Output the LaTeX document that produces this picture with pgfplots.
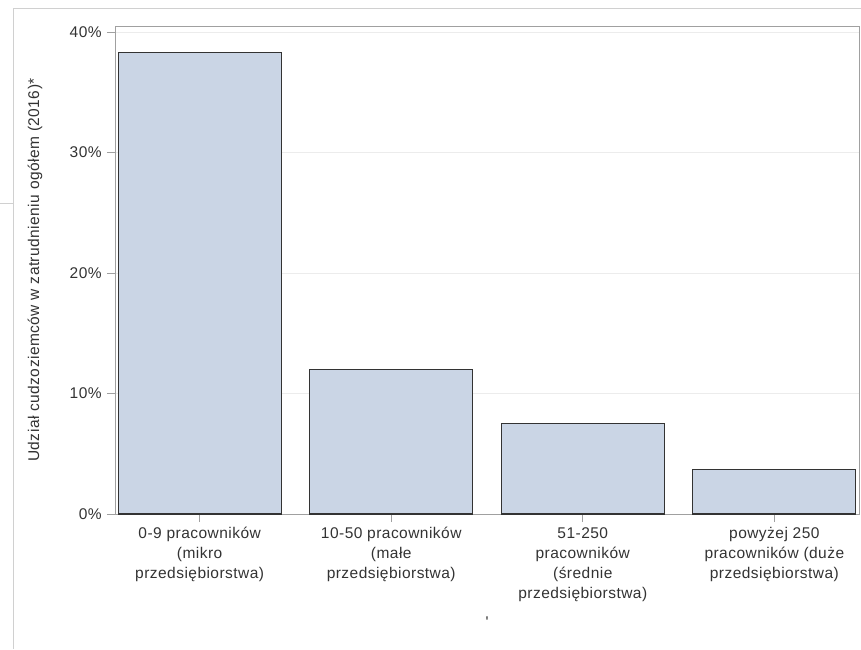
\documentclass[border=0pt]{standalone}
\usepackage{pgfplots}
\pgfplotsset{compat=1.18}
\usepackage{fontspec}
\setmainfont{Liberation Sans}[LetterSpace=3]
\definecolor{barfill}{HTML}{CAD5E5}
\definecolor{baredge}{HTML}{333333}
\definecolor{axgray}{HTML}{A0A0A0}
\definecolor{gridgray}{HTML}{ECECEC}
\definecolor{framegray}{HTML}{D0D0D0}
\definecolor{txt}{HTML}{333333}
\begin{document}
\fontsize{15.5}{20}\selectfont
\begin{tikzpicture}
\path[use as bounding box] (0pt,0pt) rectangle (861pt,-649pt);
\draw[framegray, line width=1pt] (13pt,-8pt) -- (861pt,-8pt);
\draw[framegray, line width=1pt] (13pt,-8pt) -- (13pt,-649pt);
\draw[framegray, line width=1pt] (0pt,-203pt) -- (13pt,-203pt);
\begin{axis}[
  at={(115pt,-514pt)}, anchor=south west,
  scale only axis, width=744pt, height=488pt,
  xmin=-0.442, xmax=3.442, ymin=0, ymax=40.5,
  ytick={0,10,20,30,40},
  yticklabel={\pgfmathprintnumber{\tick}\%},
  /pgf/number format/assume math mode=true,
  xtick={0,1,2,3},
  xticklabels={{0-9 pracowników\\(mikro\\przedsiębiorstwa)},
               {10-50 pracowników\\(małe\\przedsiębiorstwa)},
               {51-250\\pracowników\\(średnie\\przedsiębiorstwa)},
               {powyżej 250\\pracowników (duże\\przedsiębiorstwa)}},
  xticklabel style={align=center, anchor=north, text=txt, font=\fontsize{15.5}{20}\selectfont},
  yticklabel style={text=txt, font=\fontsize{15.5}{20}\selectfont},
  xtick pos=bottom, ytick pos=left,
  tick align=outside, major tick length=8pt,
  tick style={axgray, line width=1pt},
  axis line style={axgray, line width=1pt},
  ymajorgrids, grid style={gridgray, line width=1pt},
  ylabel={Udział cudzoziemców w zatrudnieniu ogółem (2016)*},
  ylabel style={at={(axis description cs:-0.1075,0.5)}, anchor=center, text=txt, font=\fontsize{15.5}{20}\selectfont},
  xlabel={\textquotesingle},
  xlabel style={at={(axis description cs:0.5,-0.221)}, anchor=center, text=txt},
  ybar, bar width=163pt, bar shift=0pt,
]
\addplot[fill=barfill, draw=baredge, line width=1.3pt] coordinates {(0,38.3) (1,12.0) (2,7.5) (3,3.7)};
\end{axis}
\end{tikzpicture}
\end{document}
